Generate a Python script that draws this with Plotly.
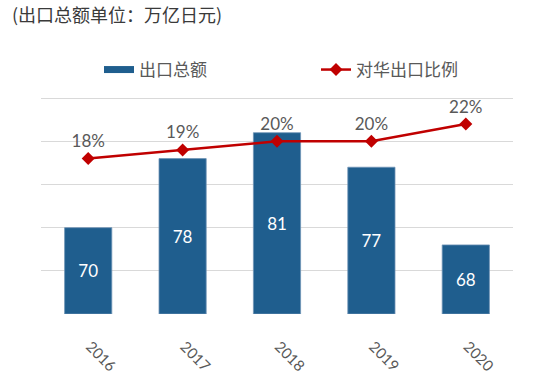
import plotly.graph_objects as go

years = ["2016", "2017", "2018", "2019", "2020"]
export_total = [70, 78, 81, 77, 68]          # 万亿日元
china_share = [18, 19, 20, 20, 22]           # %
bar_name = "出口总额"
line_name = "对华出口比例"
title_text = "(出口总额单位：万亿日元)"

AXIS_FLOOR = 60  # value where the bar axis starts

NUM_FONT = "Lato, 'Noto Sans CJK SC', sans-serif"
CJK_FONT = "'Noto Sans CJK SC', sans-serif"
GRAY = "#595959"
BAR_COLOR = "#1F5E8E"
LINE_COLOR = "#C00000"

W, H = 553, 389
PL, PR, PT, PB = 41, 513, 55, 314   # plot area in pixels

fig = go.Figure()
fig.add_trace(go.Bar(
    x=years, y=[v - AXIS_FLOOR for v in export_total], base=AXIS_FLOOR,
    name=bar_name, showlegend=False,
    marker=dict(color=BAR_COLOR, line=dict(color="#6F93B5", width=0.8)),
    text=[str(v) for v in export_total], textposition="inside",
    insidetextanchor="middle", textangle=0,
    textfont=dict(color="white", size=17, family=NUM_FONT),
    yaxis="y",
))
# legend swatch for the bars (wide flat rectangle like the reference)
fig.add_trace(go.Scatter(
    x=[None], y=[None], mode="lines", name=bar_name,
    line=dict(color=BAR_COLOR, width=7), yaxis="y",
))
fig.add_trace(go.Scatter(
    x=years, y=china_share, name=line_name, mode="lines+markers+text",
    line=dict(color=LINE_COLOR, width=2.5),
    marker=dict(symbol="diamond", size=10, color=LINE_COLOR),
    text=[f"{v}%" for v in china_share], textposition="top center",
    textfont=dict(color=GRAY, size=17, family=NUM_FONT),
    yaxis="y2",
))

fig.update_layout(
    width=W, height=H,
    margin=dict(l=PL, r=W - PR, t=PT, b=H - PB),
    paper_bgcolor="white", plot_bgcolor="white",
    bargap=0.5,
    showlegend=True,
    title=dict(text=title_text, x=12 / W, xanchor="left",
               y=1 - 15.5 / H, yanchor="middle", pad=dict(t=0, b=0, l=0, r=0),
               xref="container", yref="container",
               font=dict(family=CJK_FONT, size=18, color="#3A3A3A")),
    legend=dict(orientation="h", xref="paper", yref="paper",
                x=(99 - PL) / (PR - PL), xanchor="left",
                y=(PB - 70) / (PB - PT), yanchor="middle",
                bgcolor="rgba(0,0,0,0)", font=dict(family=CJK_FONT, size=17, color=GRAY),
                entrywidth=172, entrywidthmode="pixels"),
    xaxis=dict(type="category", tickangle=45, showgrid=False, showline=False,
               ticks="", ticklabelstandoff=20, ticklabelshift=2, automargin=False,
               tickfont=dict(family=NUM_FONT, size=15, color=GRAY)),
    yaxis=dict(range=[60, 90], tickvals=[60, 65, 70, 75, 80, 85], showticklabels=False,
               automargin=False,
               showgrid=True, gridcolor="#D9D9D9", gridwidth=1, zeroline=False, showline=False),
    yaxis2=dict(range=[0, 30], overlaying="y", side="right", visible=False, showgrid=False),
)

# remove the browser's default 8px body margin so the figure fills the window
fig.write_html("out.html", config={"displayModeBar": False},
               post_script="document.body.style.margin='0px';")
